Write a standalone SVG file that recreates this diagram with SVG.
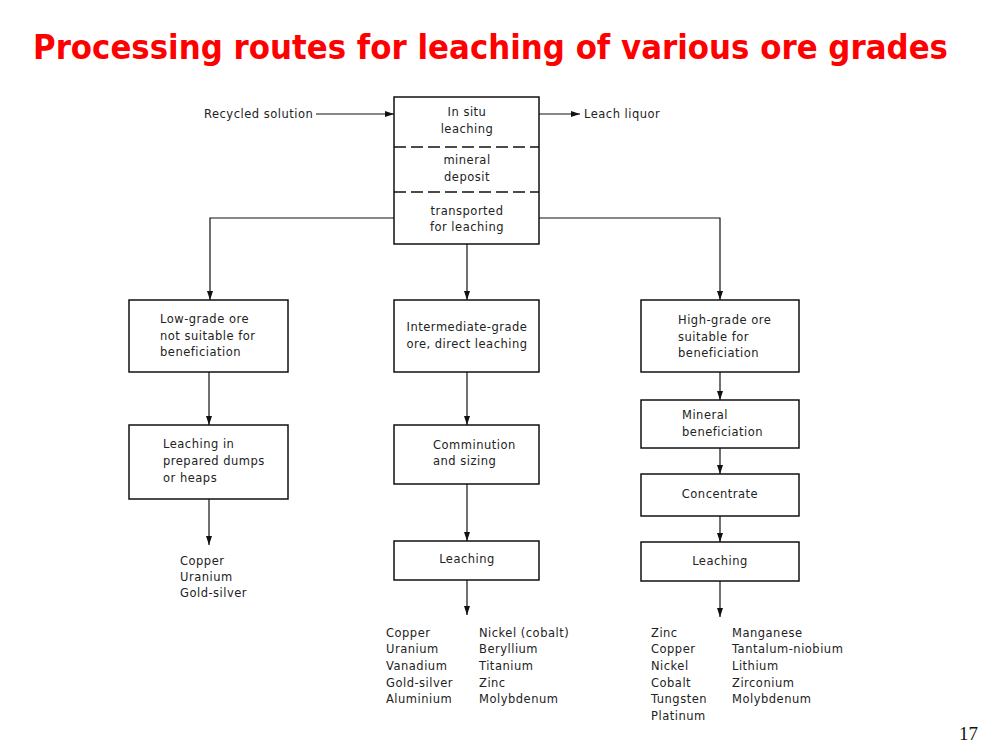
<svg xmlns="http://www.w3.org/2000/svg" width="991" height="755" viewBox="0 0 991 755">
<style>
.t{font-family:"DejaVu Sans","Liberation Sans",sans-serif;font-size:11.5px;fill:#222;letter-spacing:0.5px;}
.c{text-anchor:middle;}
.box{fill:#fff;stroke:#111;stroke-width:1.5;}
.ln{fill:none;stroke:#111;stroke-width:1.2;}
.arr{marker-end:url(#ah);}
</style>
<defs>
<marker id="ah" markerWidth="9" markerHeight="6" refX="9" refY="3" orient="auto" markerUnits="userSpaceOnUse">
<path d="M0,0 L9,3 L0,6 z" fill="#111"/>
</marker>
</defs>
<rect width="991" height="755" fill="#fff"/>
<text transform="translate(33,59) scale(1,1.12)" x="0" y="0" font-family="'Comic Sans MS','DejaVu Sans',sans-serif" font-weight="bold" font-size="30" fill="#ff0000" textLength="915" lengthAdjust="spacingAndGlyphs">Processing routes for leaching of various ore grades</text>

<g id="connectors">
<line class="ln arr" x1="316" y1="114" x2="394" y2="114"/>
<line class="ln arr" x1="539" y1="114" x2="580" y2="114"/>
<polyline class="ln arr" points="394,218 210,218 210,300"/>
<polyline class="ln arr" points="539,218 720,218 720,300"/>
<line class="ln arr" x1="467" y1="244" x2="467" y2="300"/>
<line class="ln arr" x1="209" y1="372" x2="209" y2="425"/>
<line class="ln arr" x1="209" y1="499" x2="209" y2="545"/>
<line class="ln arr" x1="467" y1="372" x2="467" y2="425"/>
<line class="ln arr" x1="467" y1="484" x2="467" y2="541"/>
<line class="ln arr" x1="467" y1="580" x2="467" y2="615"/>
<line class="ln arr" x1="720" y1="372" x2="720" y2="400"/>
<line class="ln arr" x1="720" y1="448" x2="720" y2="474"/>
<line class="ln arr" x1="720" y1="516" x2="720" y2="542"/>
<line class="ln arr" x1="720" y1="581" x2="720" y2="617"/>
</g>

<g id="recycled"><text class="t" x="204" y="118">Recycled solution</text></g>
<g id="leachliquor"><text class="t" x="584" y="118">Leach liquor</text></g>

<g id="deposit">
<rect class="box" x="394" y="97" width="145" height="147"/>
<line x1="394" y1="147" x2="539" y2="147" stroke="#111" stroke-width="1.5" stroke-dasharray="12,5"/>
<line x1="394" y1="192" x2="539" y2="192" stroke="#111" stroke-width="1.5" stroke-dasharray="12,5"/>
<text class="t c" x="467" y="116">In situ</text>
<text class="t c" x="467" y="133">leaching</text>
<text class="t c" x="467" y="164">mineral</text>
<text class="t c" x="467" y="181">deposit</text>
<text class="t c" x="467" y="215">transported</text>
<text class="t c" x="467" y="231">for leaching</text>
</g>

<g id="lowgrade">
<rect class="box" x="129" y="300" width="159" height="72"/>
<text class="t" x="160" y="323">Low-grade ore</text>
<text class="t" x="160" y="340">not suitable for</text>
<text class="t" x="160" y="356">beneficiation</text>
</g>
<g id="dumps">
<rect class="box" x="129" y="425" width="159" height="74"/>
<text class="t" x="163" y="448">Leaching in</text>
<text class="t" x="163" y="465">prepared dumps</text>
<text class="t" x="163" y="482">or heaps</text>
</g>
<g id="lowlist">
<text class="t" x="180" y="565">Copper</text>
<text class="t" x="180" y="581">Uranium</text>
<text class="t" x="180" y="597">Gold-silver</text>
</g>

<g id="intermediate">
<rect class="box" x="394" y="300" width="145" height="72"/>
<text class="t c" x="467" y="331">Intermediate-grade</text>
<text class="t c" x="467" y="348">ore, direct leaching</text>
</g>
<g id="comminution">
<rect class="box" x="394" y="425" width="145" height="59"/>
<text class="t" x="433" y="449">Comminution</text>
<text class="t" x="433" y="465">and sizing</text>
</g>
<g id="leachmid">
<rect class="box" x="394" y="541" width="145" height="39"/>
<text class="t c" x="467" y="563">Leaching</text>
</g>
<g id="midlist">
<text class="t" x="386" y="637">Copper</text>
<text class="t" x="386" y="653">Uranium</text>
<text class="t" x="386" y="670">Vanadium</text>
<text class="t" x="386" y="687">Gold-silver</text>
<text class="t" x="386" y="703">Aluminium</text>
<text class="t" x="479" y="637">Nickel (cobalt)</text>
<text class="t" x="479" y="653">Beryllium</text>
<text class="t" x="479" y="670">Titanium</text>
<text class="t" x="479" y="687">Zinc</text>
<text class="t" x="479" y="703">Molybdenum</text>
</g>

<g id="highgrade">
<rect class="box" x="641" y="300" width="158" height="72"/>
<text class="t" x="678" y="324">High-grade ore</text>
<text class="t" x="678" y="341">suitable for</text>
<text class="t" x="678" y="357">beneficiation</text>
</g>
<g id="beneficiation">
<rect class="box" x="641" y="400" width="158" height="48"/>
<text class="t" x="682" y="419">Mineral</text>
<text class="t" x="682" y="436">beneficiation</text>
</g>
<g id="concentrate">
<rect class="box" x="641" y="474" width="158" height="42"/>
<text class="t c" x="720" y="498">Concentrate</text>
</g>
<g id="leachhigh">
<rect class="box" x="641" y="542" width="158" height="39"/>
<text class="t c" x="720" y="565">Leaching</text>
</g>
<g id="highlist">
<text class="t" x="651" y="637">Zinc</text>
<text class="t" x="651" y="653">Copper</text>
<text class="t" x="651" y="670">Nickel</text>
<text class="t" x="651" y="687">Cobalt</text>
<text class="t" x="651" y="703">Tungsten</text>
<text class="t" x="651" y="720">Platinum</text>
<text class="t" x="732" y="637">Manganese</text>
<text class="t" x="732" y="653">Tantalum-niobium</text>
<text class="t" x="732" y="670">Lithium</text>
<text class="t" x="732" y="687">Zirconium</text>
<text class="t" x="732" y="703">Molybdenum</text>
</g>

<text x="978" y="740" text-anchor="end" font-family="'Liberation Serif',serif" font-size="19" fill="#111">17</text>
</svg>
